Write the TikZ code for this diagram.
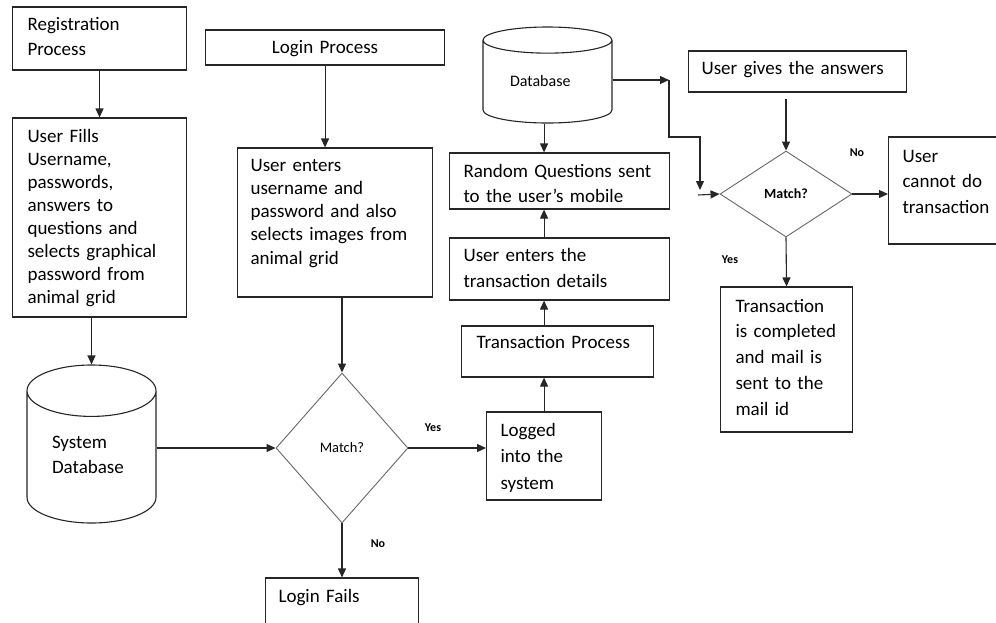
\documentclass[tikz,border=0pt]{standalone}
\usepackage{fontspec}
\setmainfont{Carlito}
\usetikzlibrary{shapes.geometric,arrows.meta}
\newcommand{\boxfont}[1]{\fontsize{19}{#1}\selectfont}

\begin{document}
\begin{tikzpicture}[x=1pt,y=-1pt,
						flowbox/.style={rectangle, draw=black!85, line width=1.1pt, anchor=base west, align=left, inner ysep=0pt},
						decision/.style={diamond, draw=black!60, line width=0.9pt, inner sep=0pt},
						dbnode/.style={cylinder, shape border rotate=90, draw=black!85, line width=1.1pt, align=left, anchor=shape center},
						yesno/.style={font=\fontsize{12}{14}\selectfont\bfseries},
						arr/.style={draw=black!85, line width=1.1pt, -{Triangle[length=9pt,width=8pt]}},
						]
						\useasboundingbox (0,0) rectangle (996,622);
						%Nodes
						\node[flowbox, text width=144pt, inner xsep=15pt, text height=23pt, text depth=40pt, font=\boxfont{25}] (reg) at (12,30) {Registration\\Process};
						\node[flowbox, text width=144pt, inner xsep=15pt, text height=24pt, text depth=175pt, font=\boxfont{23}] (fills) at (12,142) {User Fills\\Username,\\passwords,\\answers to\\questions and\\selects graphical\\password from\\animal grid};
						\node[dbnode, minimum width=129pt, minimum height=158pt, aspect=0.60, text width=79pt, text height=0pt, text depth=25pt, font=\boxfont{25}] (sysdb) at (91.5,444) {System\\Database};
						\node[flowbox, align=center, text width=239pt, inner xsep=0pt, text height=23pt, text depth=12pt, font=\boxfont{25}] (login) at (205,53) {Login Process};
						\node[flowbox, text width=169pt, inner xsep=13pt, text height=23pt, text depth=126pt, font=\boxfont{23.3}] (enters) at (237,171) {User enters\\username and\\password and also\\selects images from\\animal grid};
						\node[decision, minimum width=132pt, minimum height=150pt, font=\fontsize{14.5}{17}\selectfont] (match1) at (342,448) {Match?};
						\node[flowbox, text width=127pt, inner xsep=13pt, text height=24pt, text depth=45pt, font=\boxfont{25}] (fails) at (265,602) {Login Fails};
						\node[flowbox, text width=87pt, inner xsep=14pt, text height=24pt, text depth=64pt, font=\boxfont{26.5}] (logged) at (486,436) {Logged\\into the\\system};
						\node[flowbox, text width=162pt, inner xsep=15pt, text height=22pt, text depth=29pt, font=\boxfont{25}] (trans) at (461,348) {Transaction Process};
						\node[flowbox, text width=192pt, inner xsep=14pt, text height=23pt, text depth=39pt, font=\boxfont{26}] (details) at (449,261) {User enters the\\transaction details};
						\node[flowbox, text width=192pt, inner xsep=14pt, text height=24pt, text depth=32pt, font=\boxfont{25}] (random) at (449,177) {Random Questions sent\\to the user’s mobile};
						\node[dbnode, minimum width=129pt, minimum height=96pt, aspect=0.32, text width=75pt, text height=6pt, text depth=0pt, font=\fontsize{16}{19}\selectfont] (db) at (547.5,75) {Database};
						\node[flowbox, text width=192pt, inner xsep=13pt, text height=23pt, text depth=18pt, font=\boxfont{25}] (answers) at (688,74) {User gives the answers};
						\node[decision, minimum width=132pt, minimum height=86pt, font=\fontsize{14}{17}\selectfont\bfseries] (match2) at (786,194) {Match?};
						\node[flowbox, text width=94pt, inner xsep=14pt, text height=25pt, text depth=82pt, font=\boxfont{25.5}] (nodeal) at (888,162) {User\\cannot do\\transaction};
						\node[flowbox, text width=102pt, inner xsep=15pt, text height=25pt, text depth=120pt, font=\boxfont{25.8}] (done) at (720,312) {Transaction\\is completed\\and mail is\\sent to the\\mail id};
						\node[yesno] (yes1) at (433,428) {Yes};
						\node[yesno] (no1) at (378,544) {No};
						\node[yesno] (yes2) at (730,260) {Yes};
						\node[yesno] (no2) at (857,153) {No};
						\coordinate (k1) at (669,80);
						\coordinate (k2) at (700,137);
						\coordinate (k3) at (700,190);
						\coordinate (k4) at (698,195);

						%Lines
						\draw[arr] (reg.south) -- (fills.north);
						\draw[arr] (sysdb.north |- fills.south) -- (sysdb.north);
						\draw[arr] (login.south) -- (login.south |- enters.north);
						\draw[arr] (match1.north |- enters.south) -- (match1.north);
						\draw[arr] (sysdb.east |- match1.west) -- (match1.west);
						\draw[arr] (match1.east) -- (match1.east -| logged.west);
						\draw[arr] (match1.south) -- (match1.south |- fails.north);
						\draw[arr] (logged.north) -- (logged.north |- trans.south);
						\draw[arr] (logged.north |- trans.north) -- (logged.north |- details.south);
						\draw[arr] (logged.north |- details.north) -- (logged.north |- random.south);
						\draw[arr] (logged.north |- db.south) -- (logged.north |- random.north);
						\draw[arr] (db.east |- k1) -- (k1);
						\draw[arr] (k1) -- (k1 |- k2) -- (k2) -- (k3);
						\draw[arr] (k4) -- (match2.west);
						\draw[arr, shorten <=6pt] (match2.north |- answers.south) -- (match2.north);
						\draw[arr] (match2.east) -- (match2.east -| nodeal.west);
						\draw[arr] (match2.south) -- (done.north);
					\end{tikzpicture}
\end{document}
